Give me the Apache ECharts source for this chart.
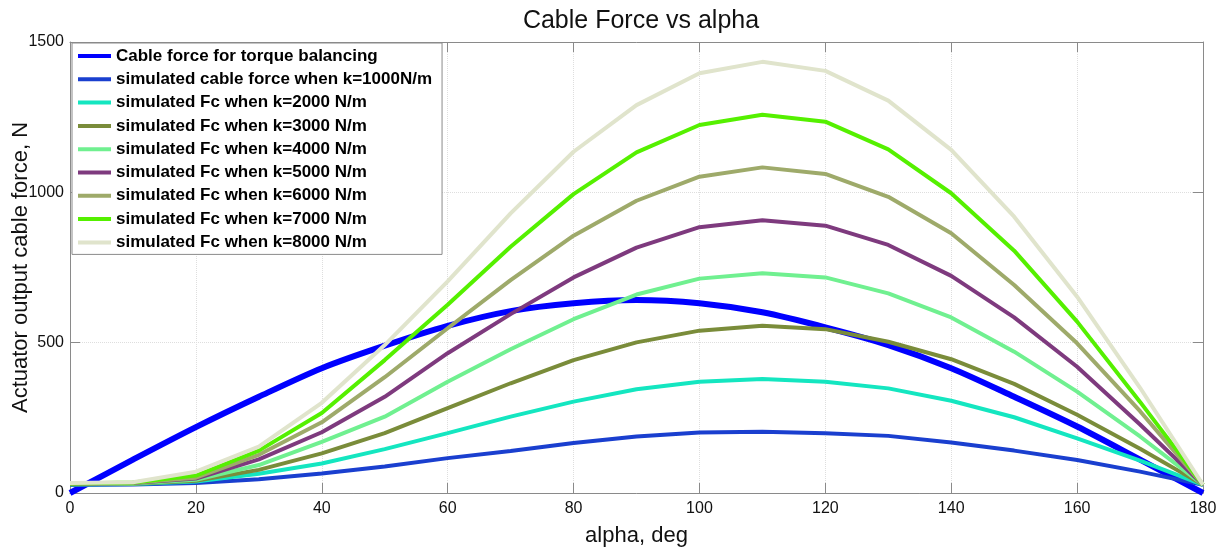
<!DOCTYPE html>
<html>
<head>
<meta charset="utf-8">
<script src="https://cdn.jsdelivr.net/npm/echarts@6/dist/echarts.min.js"></script>
<style>
  html, body { margin: 0; padding: 0; background: #fff; }
  #chart { width: 1227px; height: 552px; }
</style>
</head>
<body>
<div id="chart"></div>
<script>
// alpha in degrees
const alpha = [0, 10, 20, 30, 40, 50, 60, 70, 80, 90, 100, 110, 120, 130, 140, 150, 160, 170, 180]

const torqueBalance = [0, 111, 219, 320, 415, 490, 556, 605, 631, 642, 631, 601, 551, 492, 415, 320, 221, 111, 0]
const k1000 = [27, 28, 33, 46, 65, 88, 116, 140, 166, 188, 201, 204, 199, 190, 168, 141, 110, 71, 27]
const k2000 = [28, 30, 38, 64, 98, 146, 199, 254, 304, 345, 370, 379, 370, 348, 307, 252, 182, 108, 27]
const k3000 = [29, 31, 41, 77, 132, 199, 282, 365, 442, 501, 540, 556, 545, 503, 445, 363, 260, 147, 27]
const k4000 = [30, 32, 44, 93, 170, 254, 370, 478, 578, 660, 713, 731, 717, 664, 584, 470, 337, 188, 27]
const k5000 = [31, 33, 48, 112, 202, 320, 465, 595, 717, 816, 884, 907, 889, 825, 722, 584, 420, 228, 27]
const k6000 = [31, 34, 51, 127, 235, 385, 548, 708, 856, 972, 1052, 1083, 1061, 985, 864, 692, 498, 272, 27]
const k7000 = [32, 35, 58, 141, 266, 442, 626, 819, 994, 1133, 1224, 1258, 1235, 1143, 997, 806, 570, 303, 27]
const k8000 = [33, 36, 71, 154, 300, 492, 704, 930, 1135, 1290, 1396, 1434, 1404, 1305, 1141, 919, 653, 350, 27]

const seriesNames = [
  'Cable force for torque balancing',
  'simulated cable force when k=1000N/m',
  'simulated Fc when k=2000 N/m',
  'simulated Fc when k=3000 N/m',
  'simulated Fc when k=4000 N/m',
  'simulated Fc when k=5000 N/m',
  'simulated Fc when k=6000 N/m',
  'simulated Fc when k=7000 N/m',
  'simulated Fc when k=8000 N/m',
]
const seriesValues = [torqueBalance, k1000, k2000, k3000, k4000, k5000, k6000, k7000, k8000]
const colors = ['#0000ff', '#1a3fcf', '#14e6c0', '#7a8c3a', '#70f090', '#7e3a7e', '#9eaa6a', '#55f000', '#e0e4cc']

const font = '"Liberation Sans", Arial, sans-serif'
const axisGray = '#8a8a8a'

const chart = echarts.init(document.getElementById('chart'), null, { renderer: 'canvas' })

const series = seriesNames.map((name, i) => ({
  name,
  type: 'line',
  xAxisIndex: 0,
  yAxisIndex: 0,
  data: alpha.map((a, j) => [a, seriesValues[i][j]]),
  smooth: i === 0 ? 0.3 : false,
  showSymbol: false,
  lineStyle: { width: i === 0 ? 6 : 4, color: colors[i] },
  itemStyle: { color: colors[i] },
}))

// top / right axes only close the box
const boxAxis = {
  type: 'value',
  axisLine: { show: true, onZero: false, lineStyle: { color: axisGray, width: 1 } },
  axisTick: { show: true, inside: true, length: 10, lineStyle: { color: axisGray } },
  axisLabel: { show: false },
  splitLine: { show: false },
}

chart.setOption({
  animation: false,
  backgroundColor: '#fff',
  title: {
    text: 'Cable Force vs alpha',
    left: 636,
    textAlign: 'center',
    top: 4,
    textStyle: { fontFamily: font, fontSize: 25, fontWeight: 'normal', color: '#111' },
  },
  grid: { left: 70, right: 24, top: 42, bottom: 59, containLabel: false, outerBoundsMode: 'none' },
  legend: {
    orient: 'vertical',
    left: 72,
    top: 43,
    padding: [3, 10, 2, 6],
    itemWidth: 33,
    itemHeight: 4,
    itemGap: 3.3,
    icon: 'rect',
    backgroundColor: '#fff',
    borderColor: '#8a8a8a',
    borderWidth: 1,
    borderRadius: 0,
    textStyle: { fontFamily: font, fontSize: 17, fontWeight: 'bold', color: '#000', lineHeight: 20 },
    data: seriesNames,
  },
  xAxis: [
    {
      type: 'value',
      min: 0, max: 180, interval: 20,
      name: 'alpha, deg',
      nameLocation: 'middle',
      nameGap: 32,
      nameMoveOverlap: false,
      nameTextStyle: { fontFamily: font, fontSize: 22, color: '#111' },
      axisLine: { show: true, onZero: false, lineStyle: { color: axisGray, width: 1 } },
      axisTick: { show: true, inside: true, length: 10, lineStyle: { color: axisGray } },
      axisLabel: { fontFamily: font, fontSize: 16, color: '#111', margin: 8 },
      splitLine: { show: true, lineStyle: { color: '#dedede', type: 'dotted', width: 1 } },
    },
    Object.assign({ position: 'top', min: 0, max: 180, interval: 20 }, boxAxis),
  ],
  yAxis: [
    {
      type: 'value',
      min: 0, max: 1500, interval: 500,
      name: 'Actuator output cable force, N',
      nameLocation: 'middle',
      nameGap: 38,
      nameRotate: 90,
      nameMoveOverlap: false,
      nameTextStyle: { fontFamily: font, fontSize: 22, color: '#111' },
      axisLine: { show: true, onZero: false, lineStyle: { color: axisGray, width: 1 } },
      axisTick: { show: true, inside: true, length: 10, lineStyle: { color: axisGray } },
      axisLabel: { fontFamily: font, fontSize: 16, color: '#111', margin: 6, formatter: (v) => String(v) },
      splitLine: { show: true, lineStyle: { color: '#dedede', type: 'dotted', width: 1 } },
    },
    Object.assign({ position: 'right', min: 0, max: 1500, interval: 500 }, boxAxis),
  ],
  series,
})
</script>
</body>
</html>
